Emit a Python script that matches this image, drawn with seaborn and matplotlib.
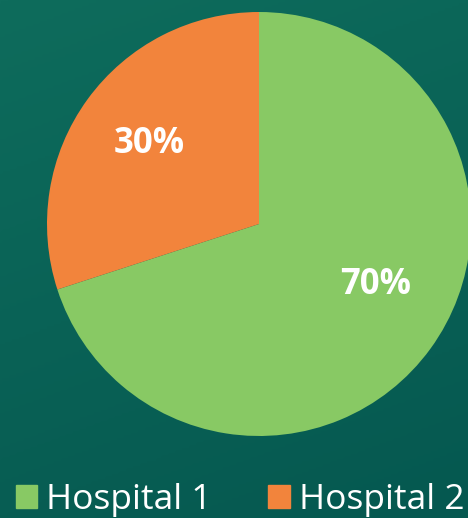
import numpy as np
import matplotlib.pyplot as plt
import matplotlib.patches as mpatches
from matplotlib.colors import LinearSegmentedColormap
import seaborn as sns

# Datos del gráfico
labels = ['Hospital 1', 'Hospital 2']
values = [70, 30]
colors = ['#88c964', '#f2843c']

sns.set_style('white')
plt.rcParams['font.family'] = ['Open Sans', 'DejaVu Sans']

fig = plt.figure(figsize=(4.68, 5.18), dpi=100)

# Fondo con degradado verde azulado
bg = fig.add_axes([0, 0, 1, 1])
cmap = LinearSegmentedColormap.from_list('bg', ['#0e6c5c', '#055850'])
yy, xx = np.mgrid[0:1:200j, 0:1:200j]
bg.imshow(0.75 * yy + 0.25 * xx, cmap=cmap, aspect='auto', extent=[0, 1, 0, 1], origin='upper')
bg.set_axis_off()

# Gráfico circular
ax = fig.add_axes([47 / 468, 82 / 518, 424 / 468, 424 / 518])
wedges, texts, autotexts = ax.pie(
    values, colors=colors, startangle=90, counterclock=False,
    autopct='%1.0f%%', pctdistance=0.64,
    wedgeprops=dict(linewidth=0),
    textprops=dict(color='white', fontsize=25, fontweight='bold'))
# ajustar la etiqueta del 70% un poco más arriba
autotexts[0].set_position((0.55, -0.29))
ax.set_xlim(-1, 1)
ax.set_ylim(-1, 1)
ax.set_aspect('equal')
ax.set_axis_off()

# Leyenda
handles = [mpatches.Patch(color=c, label=l) for c, l in zip(colors, labels)]
fig.legend(handles=handles, loc='center', bbox_to_anchor=(0.513, 0.035), ncol=2,
           frameon=False, fontsize=25.5, labelcolor='white', handlelength=0.6,
           handleheight=0.6, handletextpad=0.25, columnspacing=1.6,
           borderpad=0, borderaxespad=0)

fig.savefig('out.png', dpi=100)
